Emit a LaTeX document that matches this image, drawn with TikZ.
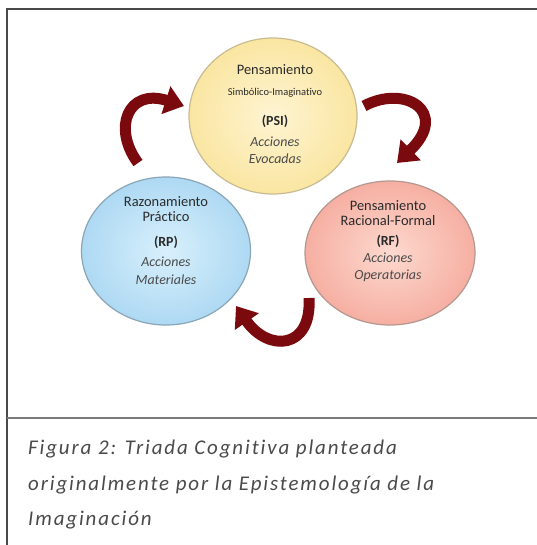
\documentclass[tikz,border=0pt]{standalone}
\usepackage{fontspec}
\setmainfont{Carlito}[Ligatures={NoCommon}]
\usetikzlibrary{shapes.geometric,arrows.meta}
\definecolor{frameC}{HTML}{4A4A4A}
\definecolor{sepC}{HTML}{7A7A7A}
\definecolor{arrC}{HTML}{7A0A0E}
\definecolor{yelIn}{HTML}{FEF4D2}
\definecolor{yelOut}{HTML}{FAE6A2}
\definecolor{yelBd}{HTML}{C9BC92}
\definecolor{bluIn}{HTML}{D8F0FC}
\definecolor{bluOut}{HTML}{AED9F3}
\definecolor{bluBd}{HTML}{8AA6B6}
\definecolor{pnkIn}{HTML}{FDD9CF}
\definecolor{pnkOut}{HTML}{F6AFA2}
\definecolor{pnkBd}{HTML}{B4978F}
\definecolor{txtC}{HTML}{2A2A2A}
\definecolor{capC}{HTML}{4A4A4A}
\tikzset{
  blob/.style={ellipse, draw, line width=1.2bp, inner sep=0pt},
  headtext/.style={font=\fontsize{14.5}{16}\selectfont, text=txtC, inner sep=0pt},
  smalltext/.style={font=\fontsize{10.5}{12}\selectfont, text=txtC, inner sep=0pt},
  abbrtext/.style={font=\fontsize{14}{16}\selectfont\bfseries, text=txtC, inner sep=0pt},
  acttext/.style={font=\fontsize{14}{16}\selectfont\itshape, text=txtC!85, inner sep=0pt},
  curvearrow/.style={draw=arrC, line width=11bp, -{Triangle[width=28bp,length=19bp]}},
  captext/.style={font=\fontsize{21}{24}\selectfont\itshape\addfontfeatures{LetterSpace=9}, text=capC, anchor=west, inner sep=0pt}
}
\begin{document}
\begin{tikzpicture}[x=1bp,y=-1bp]
\useasboundingbox (0,0) rectangle (537,545);
\fill[white] (0,0) rectangle (537,545);
% frame
\draw[frameC, line width=2.2bp] (7,545) -- (7,9) -- (537,9);
\draw[sepC, line width=2.6bp] (7,418) -- (537,418);
% circles
\node[blob, draw=yelBd, inner color=yelIn, outer color=yelOut, minimum width=168bp, minimum height=156bp] (psi) at (273,116) {};
\node[blob, draw=bluBd, inner color=bluIn, outer color=bluOut, minimum width=169bp, minimum height=148bp] (rp) at (166,251) {};
\node[blob, draw=pnkBd, inner color=pnkIn, outer color=pnkOut, minimum width=170bp, minimum height=144bp] (rf) at (390,253) {};
% texts PSI
\node[headtext] (t1) at (275,70) {Pensamiento};
\node[smalltext] (t2) at (275,93) {Simbólico-Imaginativo};
\node[abbrtext] (t3) at (275,121) {(PSI)};
\node[acttext] (t4) at (275,142) {Acciones};
\node[acttext] (t5) at (275,159) {Evocadas};
% texts RP
\node[headtext] (r1) at (166,202) {Razonamiento};
\node[headtext] (r2) at (166,217) {Práctico};
\node[abbrtext] (r3) at (166,242) {(RP)};
\node[acttext] (r4) at (166,262) {Acciones};
\node[acttext] (r5) at (166,280) {Materiales};
% texts RF
\node[headtext] (f1) at (388,206) {Pensamiento};
\node[headtext] (f2) at (388,221) {Racional-Formal};
\node[abbrtext] (f3) at (388,241) {(RF)};
\node[acttext] (f4) at (388,258) {Acciones};
\node[acttext] (f5) at (388,276) {Operatorias};
% arrows
\coordinate (a1s) at (138,163);
\coordinate (a1e) at (184,106);
\coordinate (a2s) at (364,106);
\coordinate (a2e) at (397,163);
\coordinate (a3s) at (309,298);
\coordinate (a3e) at (236,306);
\draw[curvearrow] (a1s) .. controls (112,128) and (128,88) .. (a1e);
\draw[curvearrow] (a2s) .. controls (405,84) and (450,112) .. (a2e);
\draw[curvearrow] (a3s) .. controls (312,350) and (268,352) .. (a3e);
% caption
\node[captext] (c1) at (28,449) {Figura 2: Triada Cognitiva planteada};
\node[captext] (c2) at (28,485) {originalmente por la Epistemología de la};
\node[captext] (c3) at (28,520) {Imaginación};
\end{tikzpicture}
\end{document}
